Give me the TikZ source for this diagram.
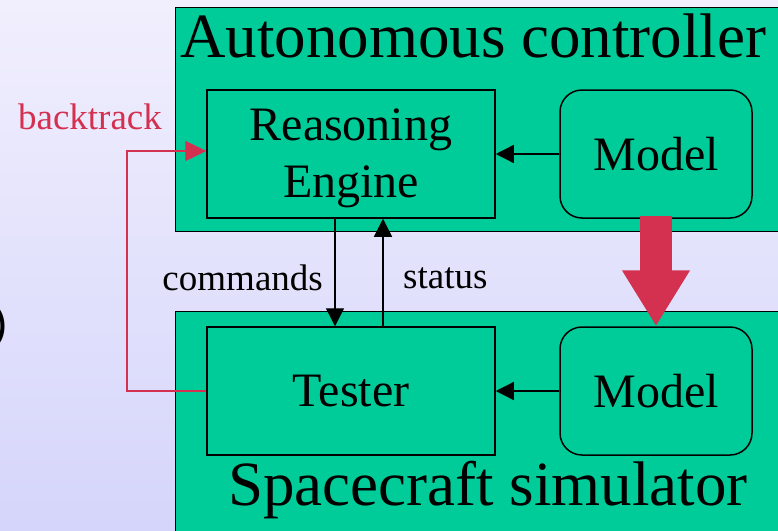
\documentclass[tikz,border=0pt]{standalone}
\usepackage{fontspec}
\setmainfont{Liberation Serif}
\newfontfamily\parenfont{Liberation Sans}
\usetikzlibrary{arrows.meta,calc}
\definecolor{panelgreen}{HTML}{00CC99}
\definecolor{trackred}{HTML}{D4304F}
\definecolor{bgtop}{HTML}{F1EFFD}
\definecolor{bgbot}{HTML}{D5D5FB}
\tikzset{
  panel/.style={draw=black, line width=1.3pt, fill=panelgreen, anchor=north west, inner sep=0pt},
  unit/.style={draw=black, line width=1.5pt, inner sep=0pt, minimum width=288pt, minimum height=128pt,
               align=center, font=\fontsize{48}{57}\selectfont},
  modelbox/.style={unit, rounded corners=22pt, minimum width=192pt},
  unittext/.style={inner sep=0pt, align=center, font=\fontsize{48}{57}\selectfont},
  title/.style={font=\fontsize{63}{70}\selectfont, inner sep=0pt},
  flowlabel/.style={font=\fontsize{37}{40}\selectfont, inner sep=0pt},
  flow/.style={line width=1.3pt, -{Triangle[length=18pt,width=18pt]}},
  trackline/.style={draw=trackred, line width=1.3pt, -{Triangle[length=21pt,width=20pt]}},
  bigarrow/.style={draw=trackred, line width=32pt, -{Triangle[length=56pt,width=64pt]}}
}
\begin{document}
\begin{tikzpicture}[x=1pt,y=-1pt]
  \useasboundingbox (0,0) rectangle (778,530);
  \clip (0,0) rectangle (778,530);
  \shade[top color=bgtop, bottom color=bgbot] (0,0) rectangle (778,530);

  % stray closing parenthesis at the left margin
  \node[font=\parenfont\fontsize{46}{50}\selectfont, anchor=east, inner sep=0pt] (paren) at (8,327) {)};

  % the two outer panels
  \node[panel, minimum width=640pt, minimum height=224pt] (ctrl) at (175,7) {};
  \node[panel, minimum width=640pt, minimum height=240pt] (sim) at (175,311) {};
  \node[title, anchor=base west] (ctrltitle) at (180,57) {Autonomous controller};
  \node[title, anchor=base west] (simtitle) at (228,505) {Spacecraft simulator};

  % inner units
  \node[unit] (re) at (351,154) {};
  \node[unittext] (retext) at (351,158) {Reasoning\\Engine};
  \node[modelbox] (m1) at (656,154) {Model};
  \node[unit] (te) at (351,391) {Tester};
  \node[modelbox] (m2) at (656,391) {Model};

  % model feeds
  \draw[flow] (m1.west) -- (re.east);
  \draw[flow] (m2.west) -- (te.east);

  % commands and status between engine and tester
  \draw[flow] ([xshift=-16pt]re.south) -- ([xshift=-16pt]te.north);
  \draw[flow] ([xshift=32pt]te.north) -- ([xshift=32pt]re.south);
  \node[flowlabel, anchor=east] (cmd) at (323,278) {commands};
  \node[flowlabel, anchor=west] (stat) at (403,278) {status};

  % model transfer
  \draw[bigarrow] ($(m1.south)+(0,-3)$) -- (m2.north);

  % backtrack loop
  \coordinate (bt) at (127,151);
  \draw[trackline] (te.west) -| (bt) -- (bt -| re.west);
  \node[flowlabel, text=trackred, anchor=base] (btlabel) at (90,129) {backtrack};
\end{tikzpicture}
\end{document}
